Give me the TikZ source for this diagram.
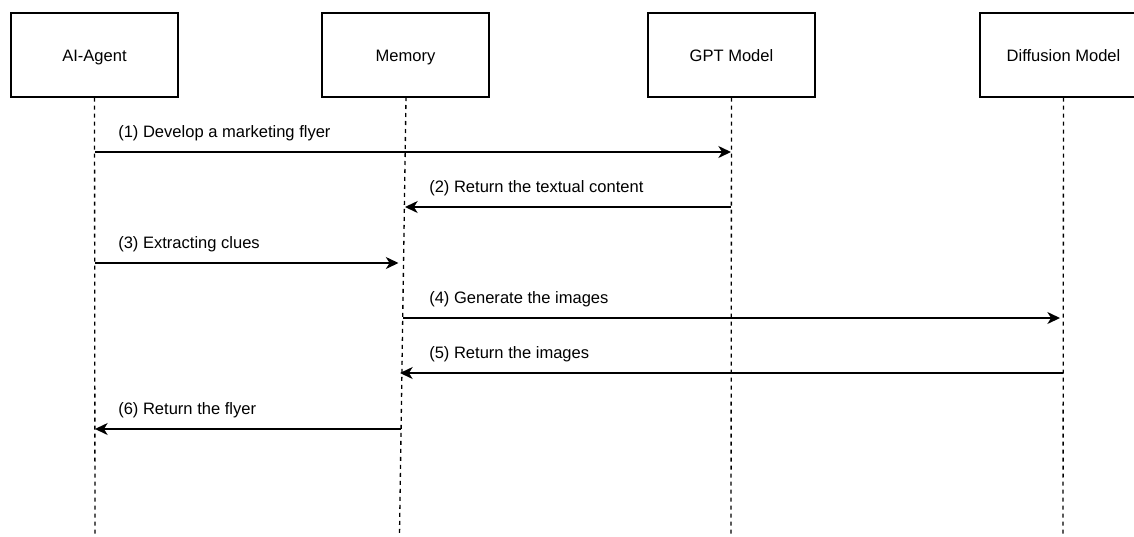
\documentclass[tikz,border=0pt]{standalone}
\usepackage{fontspec}
\setmainfont{Liberation Sans}
\usetikzlibrary{arrows.meta}
\begin{document}
\begin{tikzpicture}[x=0.75pt,y=-0.75pt,
  every node/.style={font=\fontsize{12.4pt}{15pt}\selectfont},
  actor/.style={draw,line width=1pt,minimum width=125.25pt,minimum height=63pt,
    inner sep=0pt,text height=9pt,text depth=0pt},
  lifeline/.style={line width=1pt,dash pattern=on 3pt off 3pt},
  msg/.style={line width=1pt,-{Stealth[length=9.5pt,width=9pt,inset=2.8pt]}},
  msglabel/.style={anchor=base west,inner sep=0pt}]
\useasboundingbox (0,0) rectangle (1134,536);
\clip (0,0) rectangle (1134,536);

% participants
\node[actor] (agent) at (94.5,55) {AI-Agent};
\node[actor] (memory) at (405.5,55) {Memory};
\node[actor] (gpt) at (731.5,55) {GPT Model};
\node[actor] (diff) at (1063.5,55) {Diffusion Model};

% lifeline ends
\coordinate (agentEnd) at (95,535);
\coordinate (memTop) at (406,97);
\coordinate (memEnd) at (399.5,535);
\coordinate (gptEnd) at (731,535);
\coordinate (diffEnd) at (1063,535);

\draw[lifeline] (agent.south) -- (agentEnd);
\draw[lifeline] (memTop) -- (memEnd);
\draw[lifeline] (gpt.south) -- (gptEnd);
\draw[lifeline] (diff.south) -- (diffEnd);

% message end points on the lifelines
\coordinate (a1) at (95,152);    \coordinate (g1) at (731,152);
\coordinate (g2) at (731,207);   \coordinate (m2) at (405,207);
\coordinate (a3) at (95,263);    \coordinate (m3) at (398.5,263);
\coordinate (m4) at (403,318);   \coordinate (d4) at (1060,318);
\coordinate (d5) at (1063,373);  \coordinate (m5) at (400,373);
\coordinate (m6) at (401,429);   \coordinate (a6) at (95,429);

% messages
\draw[msg] (a1) -- (g1);
\draw[msg] (g2) -- (m2);
\draw[msg] (a3) -- (m3);
\draw[msg] (m4) -- (d4);
\draw[msg] (d5) -- (m5);
\draw[msg] (m6) -- (a6);

\node[msglabel] (l1) at (118,137) {(1) Develop a marketing flyer};
\node[msglabel] (l2) at (429,192) {(2) Return the textual content};
\node[msglabel] (l3) at (118,248) {(3) Extracting clues};
\node[msglabel] (l4) at (429,303) {(4) Generate the images};
\node[msglabel] (l5) at (429,358) {(5) Return the images};
\node[msglabel] (l6) at (118,414) {(6) Return the flyer};
\end{tikzpicture}
\end{document}
